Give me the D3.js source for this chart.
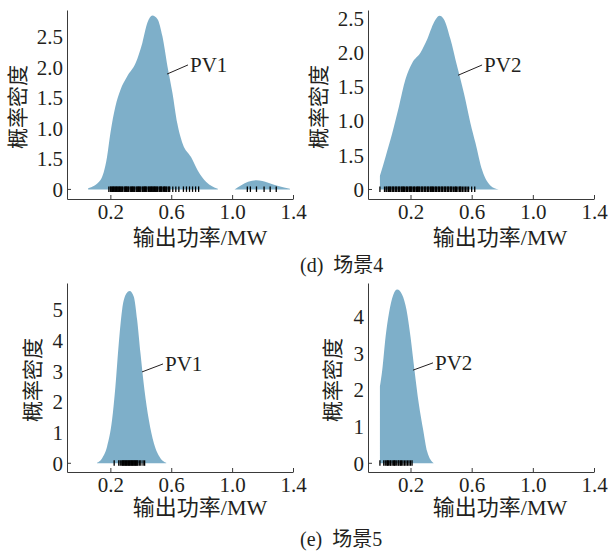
<!DOCTYPE html>
<html>
<head>
<meta charset="utf-8">
<script src="https://cdn.jsdelivr.net/npm/d3@7"></script>
<style>
  body { margin: 0; background: #fff; }
  text { font-family: "Liberation Serif", "Noto Sans CJK SC", serif; fill: #231f20; }
</style>
</head>
<body>
<div id="chart"></div>
<script>
// ---- data ----
var xTicks = [0.2, 0.6, 1.0, 1.4],
    xTickLabels = ["0.2", "0.6", "1.0", "1.4"];

// scene 4 y ticks (labels as printed, incl. the "1.5" at 0.5)
var yTicksScene4 = [0, 0.5, 1.0, 1.5, 2.0, 2.5],
    yTickLabelsScene4 = ["0", "1.5", "1.0", "1.5", "2.0", "2.5"],
    yTicksS5PV1 = [0, 1, 2, 3, 4, 5],
    yTicksS5PV2 = [0, 1, 2, 3, 4];

// density curves [MW, density]; null = gap
var densityS4PV1 = [[0.054,0.02],[0.134,0.15],[0.178,0.53],[0.2,0.92],[0.233,1.36],[0.266,1.63],[0.31,1.85],
    [0.366,2.07],[0.41,2.4],[0.443,2.73],[0.476,2.85],[0.51,2.79],[0.542,2.51],[0.575,2.02],[0.608,1.58],
    [0.64,1.08],[0.675,0.75],[0.73,0.53],[0.774,0.31],[0.83,0.12],[0.906,0.01],[0.95,null],
    [1.016,0.0],[1.06,0.07],[1.105,0.125],[1.16,0.15],[1.237,0.11],[1.303,0.055],[1.38,0.01]];
var densityS4PV2 = [[0.0,0.2],[0.037,0.48],[0.08,0.82],[0.124,1.21],[0.167,1.61],[0.211,1.85],[0.265,2.0],
    [0.31,2.2],[0.353,2.44],[0.39,2.54],[0.418,2.49],[0.461,2.2],[0.505,1.8],[0.549,1.41],[0.592,0.97],
    [0.625,0.68],[0.669,0.28],[0.722,0.06],[0.777,0.0]];
var densityS5PV1 = [[0.112,0.02],[0.145,0.16],[0.178,0.54],[0.211,1.41],[0.233,2.5],[0.255,3.9],[0.277,5.0],
    [0.305,5.54],[0.327,5.62],[0.354,5.43],[0.376,4.67],[0.398,3.58],[0.424,2.39],[0.453,1.41],[0.486,0.65],
    [0.53,0.16],[0.567,0.02]];
var densityS5PV2 = [[0.0,2.1],[0.015,2.54],[0.037,3.45],[0.059,4.09],[0.087,4.59],[0.113,4.74],[0.146,4.59],
    [0.174,4.18],[0.2,3.45],[0.226,2.54],[0.254,1.63],[0.283,0.91],[0.309,0.32],[0.352,0.0]];

// rug samples (MW)
var rugS4PV1 = [0.19,0.2,0.205,0.21,0.215,0.22,0.225,0.23,0.235,0.24,0.245,0.25,0.255,0.26,0.265,0.27,0.275,
    0.28,0.29,0.295,0.3,0.305,0.31,0.315,0.32,0.33,0.335,0.34,0.345,0.35,0.355,0.36,0.37,0.375,0.38,0.385,
    0.39,0.395,0.4,0.41,0.415,0.42,0.425,0.43,0.435,0.44,0.45,0.455,0.46,0.465,0.47,0.475,0.48,0.485,0.49,
    0.495,0.5,0.505,0.51,0.52,0.525,0.53,0.535,0.54,0.55,0.555,0.56,0.565,0.57,0.58,0.585,0.59,
    0.61,0.63,0.65,0.68,0.7,0.72,0.74,0.76,0.78,1.1,1.12,1.16,1.21,1.25,1.29];
var rugS4PV2 = [0.0,0.03,0.04,0.045,0.055,0.06,0.065,0.07,0.08,0.085,0.09,0.1,0.105,0.11,0.12,0.125,0.13,
    0.14,0.145,0.15,0.155,0.16,0.17,0.175,0.18,0.19,0.195,0.2,0.205,0.21,0.22,0.225,0.23,0.24,0.245,0.25,
    0.255,0.26,0.27,0.275,0.28,0.29,0.295,0.3,0.31,0.315,0.32,0.33,0.335,0.34,0.345,0.35,0.36,0.365,0.37,
    0.38,0.385,0.39,0.4,0.405,0.41,0.42,0.425,0.43,0.44,0.445,0.45,0.46,0.465,0.47,0.48,0.49,0.495,0.5,
    0.51,0.52,0.525,0.53,0.54,0.55,0.56,0.57,0.58,0.6,0.62];
var rugS5PV1 = [0.225,0.255,0.265,0.275,0.28,0.285,0.29,0.295,0.3,0.305,0.31,0.315,0.32,0.325,0.33,0.335,
    0.34,0.345,0.35,0.355,0.36,0.365,0.37,0.375,0.38,0.39,0.4,0.415,0.425];
var rugS5PV2 = [0.0,0.025,0.035,0.045,0.05,0.055,0.065,0.07,0.08,0.09,0.095,0.1,0.11,0.12,0.125,0.135,0.14,
    0.15,0.16,0.17,0.18,0.19,0.2,0.21];

// label leader lines: [x1,y1,x2,y2] in data units, text at end
var labelS4PV1 = [0.572, 1.89, 0.71, 2.04], labelS4PV2 = [0.511, 1.67, 0.668, 1.82],
    labelS5PV1 = [0.408, 2.98, 0.546, 3.24], labelS5PV2 = [0.216, 2.54, 0.347, 2.74];

var xTitle = "输出功率/MW", yTitle = "概率密度";
var captions = ["(d)  场景4", "(e)  场景5"];

// ---- layout ----
var fill = "#7eafc9", axisColor = "#3a3a3a";

var panels = [
  { name: "PV1", density: densityS4PV1, rug: rugS4PV1, label: labelS4PV1,
    xr: [67, 293], xd: [-0.085, 1.4], yr: [199, 10], yd: [-0.157, 2.94],
    yt: yTicksScene4, ytl: yTickLabelsScene4, ytx: 18, yty: 107, xtx: 200, xty: 245 },
  { name: "PV2", density: densityS4PV2, rug: rugS4PV2, label: labelS4PV2,
    xr: [368, 594], xd: [-0.078, 1.4], yr: [199, 10], yd: [-0.139, 2.624],
    yt: yTicksScene4, ytl: yTickLabelsScene4, ytx: 319, yty: 107, xtx: 500, xty: 245 },
  { name: "PV1", density: densityS5PV1, rug: rugS5PV1, label: labelS5PV1,
    xr: [67, 293], xd: [-0.085, 1.4], yr: [472, 283], yd: [-0.284, 5.88],
    yt: yTicksS5PV1, ytl: null, ytx: 33, yty: 380, xtx: 200, xty: 515 },
  { name: "PV2", density: densityS5PV2, rug: rugS5PV2, label: labelS5PV2,
    xr: [368, 594], xd: [-0.078, 1.4], yr: [472, 283], yd: [-0.237, 4.918],
    yt: yTicksS5PV2, ytl: null, ytx: 333, yty: 380, xtx: 500, xty: 515 }
];

var svg = d3.select("#chart").append("svg")
    .attr("width", 609)
    .attr("height", 553);

panels.forEach(function(p) {
  var x = d3.scaleLinear().domain(p.xd).range(p.xr),
      y = d3.scaleLinear().domain(p.yd).range(p.yr);
  var g = svg.append("g");

  var area = d3.area()
      .defined(function(d) { return d[1] !== null; })
      .x(function(d) { return x(d[0]); })
      .y0(y(0))
      .y1(function(d) { return y(d[1]); })
      .curve(d3.curveMonotoneX);

  g.append("path")
      .datum(p.density)
      .attr("d", area)
      .attr("fill", fill);

  // rug
  g.selectAll(".rug")
      .data(p.rug)
      .enter().append("line")
      .attr("class", "rug")
      .attr("x1", function(d) { return x(d); })
      .attr("x2", function(d) { return x(d); })
      .attr("y1", y(0) - 3)
      .attr("y2", y(0) + 2.5)
      .attr("stroke", "#000")
      .attr("stroke-width", 1.3);

  // x axis (ticks point up)
  var xAxis = g.append("g")
      .attr("transform", "translate(0," + p.yr[0] + ")")
      .call(d3.axisBottom(x).tickValues(xTicks)
          .tickFormat(function(d, i) { return xTickLabels[i]; })
          .tickSizeInner(-4).tickSizeOuter(0).tickPadding(5));
  xAxis.selectAll("text").style("font-size", "21px");

  // y axis
  var yAxis = g.append("g")
      .attr("transform", "translate(" + p.xr[0] + ",0)")
      .call(d3.axisLeft(y).tickValues(p.yt)
          .tickFormat(function(d, i) { return p.ytl ? p.ytl[i] : d3.format("d")(d); })
          .tickSize(0).tickPadding(4));
  yAxis.selectAll("text").style("font-size", "21px");

  [xAxis, yAxis].forEach(function(a) {
    a.select(".domain").attr("stroke", axisColor);
    a.selectAll(".tick line").attr("stroke", axisColor);
    a.selectAll("text").attr("fill", "#231f20").style("font-family", "Liberation Serif, serif");
  });

  // small inward tick at y = 0
  g.append("line")
      .attr("x1", p.xr[0]).attr("x2", p.xr[0] + 4)
      .attr("y1", y(0)).attr("y2", y(0))
      .attr("stroke", axisColor);

  // leader line + series label
  g.append("line")
      .attr("x1", x(p.label[0])).attr("y1", y(p.label[1]))
      .attr("x2", x(p.label[2])).attr("y2", y(p.label[3]))
      .attr("stroke", "#231f20").attr("stroke-width", 1);
  g.append("text")
      .attr("x", x(p.label[2]) + 2)
      .attr("y", y(p.label[3]) + 7)
      .style("font-size", "21px")
      .text(p.name);

  // axis titles
  g.append("text")
      .attr("x", p.xtx)
      .attr("y", p.xty)
      .attr("text-anchor", "middle")
      .style("font-size", "22px")
      .text(xTitle);

  g.append("text")
      .attr("transform", "translate(" + p.ytx + "," + p.yty + ") rotate(-90)")
      .attr("text-anchor", "middle")
      .attr("dominant-baseline", "central")
      .style("font-size", "21px")
      .text(yTitle);
});

svg.selectAll(".caption")
    .data(captions)
    .enter().append("text")
    .attr("class", "caption")
    .attr("x", 300)
    .attr("y", function(d, i) { return i === 0 ? 272 : 546; })
    .style("font-size", "20px")
    .style("white-space", "pre")
    .text(function(d) { return d; });
</script>
</body>
</html>
